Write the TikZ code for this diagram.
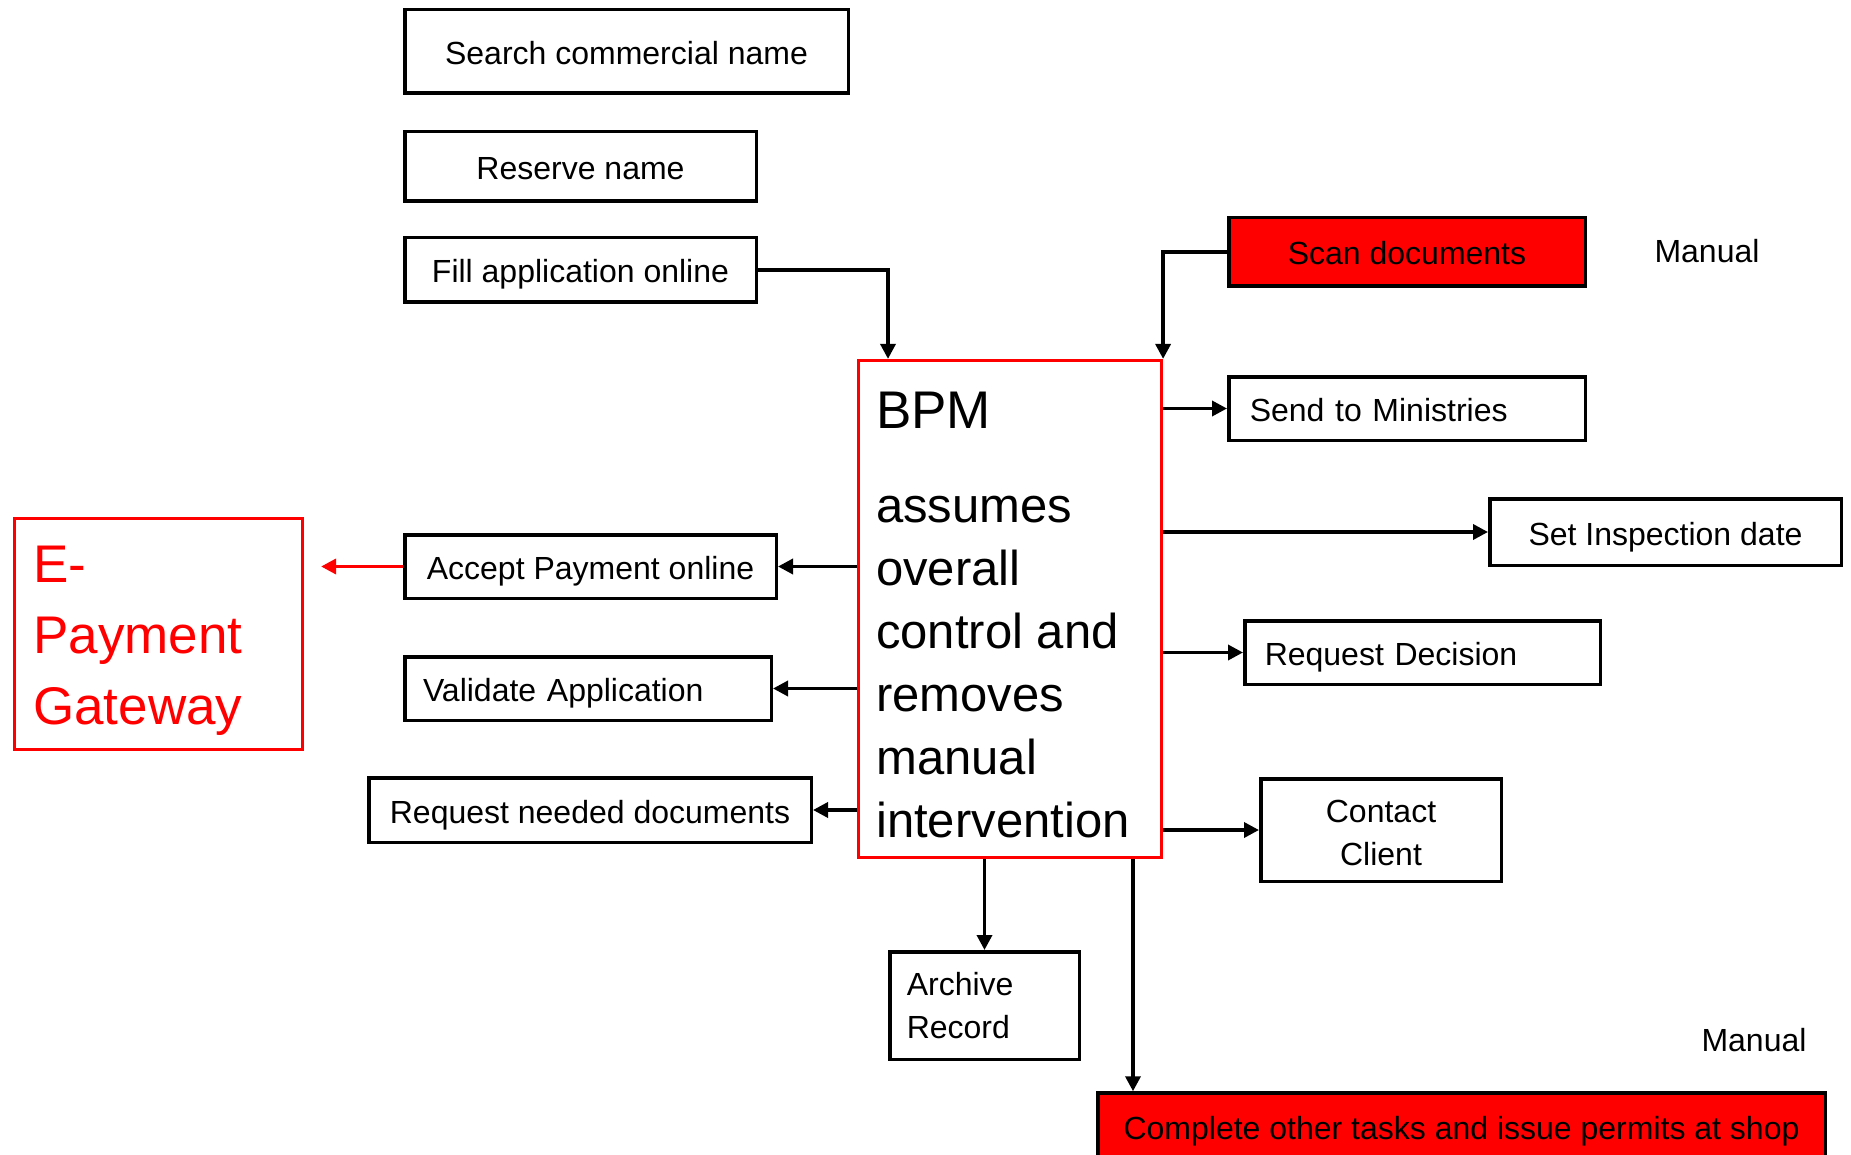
\documentclass[tikz,border=0pt]{standalone}
\usepackage{fontspec}
\setmainfont{Liberation Sans}
\usetikzlibrary{arrows.meta}
\definecolor{hotred}{RGB}{255,0,0}

\begin{document}
\begin{tikzpicture}[x=1pt,y=-1pt,
  box/.style={draw=black, line width=3.5pt, rectangle, inner sep=0pt,
    font=\fontsize{32}{43}\selectfont, align=center},
  oneline/.style={box, text height=26pt, text depth=0pt},
  leftbox/.style={oneline, align=left},
  alertbox/.style={oneline, fill=hotred},
  redframe/.style={draw=hotred, line width=3.2pt, rectangle, inner sep=0pt},
  bigtxt/.style={inner sep=0pt, anchor=base west, font=\fontsize{49}{63}\selectfont},
  gatetxt/.style={inner sep=0pt, anchor=base west, text=hotred, font=\fontsize{53}{71}\selectfont},
  note/.style={inner sep=0pt, anchor=base, font=\fontsize{32}{43}\selectfont},
  link/.style={draw=black, line width=3.5pt, -{Triangle[length=15pt,width=15pt]}},
  redlink/.style={draw=hotred, line width=3.5pt, -{Triangle[length=15pt,width=15pt]}}
]
\useasboundingbox (0,0) rectangle (1851,1155);
\clip (0,0) rectangle (1851,1155);

% central controller
\node[redframe, minimum width=303pt, minimum height=497pt] (bpm) at (1010,609) {};
\node[bigtxt, font=\fontsize{53}{63}\selectfont] (bpmtitle) at (876,428) {BPM};
\foreach \t [count=\i] in {assumes, overall, control and, removes, manual, intervention}
  \node[bigtxt] (bpmline\i) at (876,{522+63*(\i-1)}) {\t};

% steps on the left
\node[oneline, minimum width=443.5pt, minimum height=83.5pt] (search) at (626.5,51.5) {Search commercial name};
\node[oneline, minimum width=351.5pt, minimum height=69.5pt] (reserve) at (580.5,166.5) {Reserve name};
\node[oneline, minimum width=351.5pt, minimum height=64.5pt] (fill) at (580.5,270) {Fill application online};
\node[oneline, minimum width=371.5pt, minimum height=63.5pt] (accept) at (590.5,566.5) {Accept Payment online};
\node[leftbox, text width=330pt, minimum width=366.5pt, minimum height=63.5pt] (validate) at (588,688.5) {Validate Application};
\node[oneline, minimum width=442.5pt, minimum height=64.5pt] (reqdocs) at (590,810) {Request needed documents};

% payment gateway
\node[redframe, minimum width=288pt, minimum height=231pt] (epay) at (158.5,634) {};
\node[gatetxt] (gate1) at (33,582) {E-};
\node[gatetxt] (gate2) at (33,653) {Payment};
\node[gatetxt] (gate3) at (33,724) {Gateway};

% steps on the right
\node[alertbox, minimum width=356.5pt, minimum height=68.5pt] (scan) at (1407,252) {Scan documents};
\node[note] (manualtop) at (1707,263) {Manual};
\node[leftbox, text width=314.5pt, minimum width=356.5pt, minimum height=63.5pt] (send) at (1407,408.5) {Send to Ministries};
\node[oneline, minimum width=351.5pt, minimum height=66.5pt] (inspect) at (1665.5,532) {Set Inspection date};
\node[leftbox, text width=315.5pt, minimum width=355.5pt, minimum height=63.5pt] (decide) at (1422.5,652.5) {Request Decision};
\node[box, minimum width=240.5pt, minimum height=102.5pt] (contact) at (1381,830) {};
\node[note] (contact1) at (contact.center |- 0,822) {Contact};
\node[note] (contact2) at (contact.center |- 0,865) {Client};

% steps below
\node[box, align=left, text width=155.5pt, minimum width=189.5pt, minimum height=107.5pt] (archive) at (984.5,1005.5) {Archive\\Record};
\node[note] (manualbottom) at (1754,1051) {Manual};
\node[alertbox, minimum width=727.5pt, minimum height=66pt] (shop) at (1461.5,1126) {Complete other tasks and issue permits at shop};

% connectors
\coordinate (filldrop) at (888,0);
\coordinate (shopdrop) at (1133,0);
\draw[link] (fill.east) -| (bpm.north -| filldrop);
\draw[link] (scan.west) -| (bpm.north east);
\draw[link] (bpm.east |- send.west) -- (send.west);
\draw[link] (bpm.east |- inspect.west) -- (inspect.west);
\draw[link] (bpm.east |- decide.west) -- (decide.west);
\draw[link] (bpm.east |- contact.west) -- (contact.west);
\draw[link] (bpm.west |- accept.east) -- (accept.east);
\draw[link] (bpm.west |- validate.east) -- (validate.east);
\draw[link] (bpm.west |- reqdocs.east) -- (reqdocs.east);
\draw[redlink, shorten >=17pt] (accept.west) -- (epay.east |- accept.west);
\draw[link] (bpm.south -| archive.north) -- (archive.north);
\draw[link] (bpm.south -| shopdrop) -- (shop.north -| shopdrop);
\end{tikzpicture}
\end{document}
